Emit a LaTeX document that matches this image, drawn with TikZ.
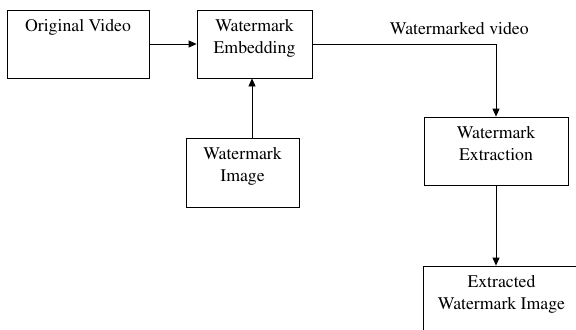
\documentclass[tikz,border=0pt]{standalone}
\usepackage[T1]{fontenc}
\usepackage{mathptmx}
\usetikzlibrary{arrows.meta}

\begin{document}
\begin{tikzpicture}[x=1bp,y=-1bp,>={Triangle[length=8bp,width=7bp]},line width=0.8bp,
blk/.style={draw,rectangle,minimum height=68bp,inner sep=0pt},
blktxt/.style={anchor=north,align=center,inner sep=0pt,yshift=-9bp,font=\fontsize{17.8}{23}\selectfont}]
\useasboundingbox(0,0)rectangle(576,329);
\clip(0,0)rectangle(576,329);
\node[blk,minimum width=142bp,label={[blktxt]north:Original Video}](ov)at(78,44){};
\node[blk,minimum width=115bp,label={[blktxt]north:Watermark\\Embedding}](emb)at(254.5,44){};
\node[blk,minimum width=113bp,minimum height=69bp,label={[blktxt]north:Watermark\\Image}](wmi)at(242.5,172.5){};
\node[blk,minimum width=144bp,label={[blktxt]north:Watermark\\Extraction}](ext)at(496,151){};
\node[blk,minimum width=157bp,label={[blktxt]north:Extracted\\Watermark Image}](exw)at(501.5,300){};
\draw[->](ov)--(emb);
\draw[->]([xshift=9.5bp]wmi.north)--([xshift=9.5bp]wmi.north|-emb.south);
\draw[->](emb.east)-|node[pos=0.4,above=9bp,font=\fontsize{17.8}{23}\selectfont,inner sep=0pt]{Watermarked video}(ext.north);
\draw[->](ext.south)--(ext.south|-exw.north);
\end{tikzpicture}
\end{document}
